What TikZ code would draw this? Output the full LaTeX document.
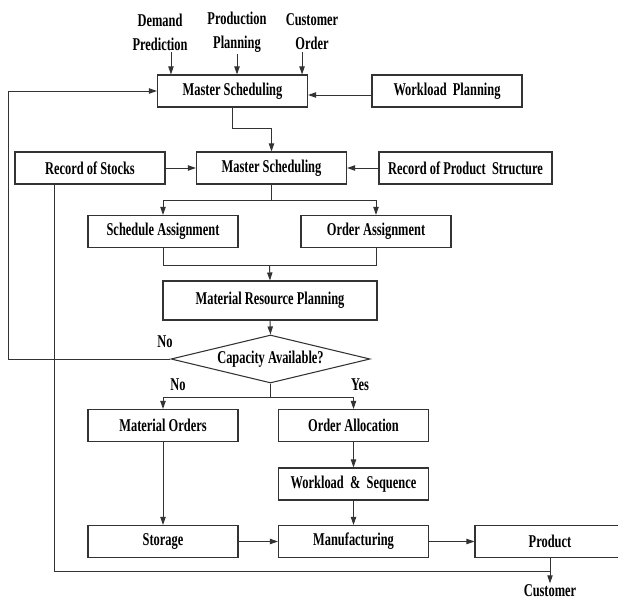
\documentclass[tikz,border=0pt]{standalone}
\usepackage{fontspec}
\setmainfont{Liberation Serif}[FakeStretch=0.69]
\usetikzlibrary{arrows.meta,positioning,shapes.geometric,calc}
\tikzset{
  box/.style    = {rectangle, draw=black!80, line width=0.8pt, minimum height=24pt,
                   minimum width=112.5pt, align=center, inner sep=2pt,
                   font=\bfseries\fontsize{13.5}{18}\selectfont},
  widebox/.style = {box, minimum width=160.5pt, minimum height=29.25pt},
  recbox/.style  = {box, minimum width=129.75pt},
  decis/.style  = {diamond, aspect=4.15, draw=black!80, line width=0.8pt, inner sep=0pt,
                   minimum width=149.25pt, minimum height=36pt,
                   font=\bfseries\fontsize{13.5}{18}\selectfont},
  lbl/.style    = {align=center, inner sep=1pt, font=\bfseries\fontsize{13.5}{18}\selectfont},
  ln/.style     = {draw=black!80, line width=0.7pt},
  ar/.style     = {ln, -{Triangle[length=6pt,width=4pt]}}
}
\begin{document}
\begin{tikzpicture}[x=0.75pt, y=-0.75pt]
    \useasboundingbox (0,0) rectangle (618,602);
    \node[lbl] (dem) at (160,32) {Demand\\Prediction};
    \node[lbl] (prp) at (237,32) {Production\\Planning};
    \node[lbl] (cus) at (312,32) {Customer\\Order};
    \node[box] (ms1) at (232.5,91) {Master Scheduling};
    \node[box] (wp) at (447,91) {Workload~ Planning};
    \node[recbox, minimum width=112.5pt] (ros) at (90,168) {Record of Stocks};
    \node[box] (ms2) at (271.5,168) {Master Scheduling};
    \node[recbox] (rps) at (465.5,168) {Record of Product~ Structure};
    \node[box] (sa) at (163,231.5) {Schedule Assignment};
    \node[box] (oa) at (376,231.5) {Order Assignment};
    \node[widebox] (mrp) at (270,300.5) {Material Resource Planning};
    \node[decis] (cap) at (270.5,359) {Capacity Available?};
    \node[lbl] (no1) at (165,342) {No};
    \node[lbl] (no2) at (178,385) {No};
    \node[lbl] (yes) at (360,385) {Yes};
    \node[box] (mo) at (163,425.5) {Material Orders};
    \node[box] (oal) at (353.5,425.5) {Order Allocation};
    \node[box] (ws) at (353.5,484) {Workload~ \&~ Sequence};
    \node[box] (sto) at (163,541.5) {Storage};
    \node[box] (man) at (353.5,541.5) {Manufacturing};
    \node[box] (prod) at (550,541.5) {Product};
    \node[lbl] (cust) at (550,591) {Customer};
    \coordinate (t1) at ($(ms1.north west)+(14,0)$);
    \coordinate (t2) at ($(ms1.north)+(4.5,0)$);
    \coordinate (t3) at ($(ms1.north east)+(-6,0)$);
    \coordinate (fb) at (8,359);
    \coordinate (rb) at ($(ros.south west)+(40,0)$);
    \coordinate (mj) at ($(sa.south)!0.5!(oa.south)+(0,17)$);
    \draw[ar] (dem.south -| t1) -- (t1);
    \draw[ar] (prp.south -| t2) -- (t2);
    \draw[ar] (cus.south -| t3) -- (t3);
    \draw[ar] ($(wp.west)+(0,4)$) -- ($(ms1.east)+(0,4)$);
    \draw[ar] (cap.west) -- (fb) |- (ms1.west);
    \draw[ar] (ms1.south) -- ++(0,21) -| (ms2.north);
    \draw[ar] (ros.east) -- (ms2.west);
    \draw[ar] (rps.west) -- (ms2.east);
    \draw[ar] (ms2.south) -- ++(0,16) -| (sa.north);
    \draw[ar] (ms2.south) -- ++(0,16) -| (oa.north);
    \draw[ln] (sa.south) |- (mj) -| (oa.south);
    \draw[ar] (mj) -- (mrp.north);
    \draw[ar] (mrp.south) -- (cap.north);
    \draw[ar] (cap.south) -- ++(0,14) -| (mo.north);
    \draw[ar] (cap.south) -- ++(0,14) -| (oal.north);
    \draw[ar] (mo.south) -- (sto.north);
    \draw[ar] (oal.south) -- (ws.north);
    \draw[ar] (ws.south) -- (man.north);
    \draw[ar] (sto.east) -- (man.west);
    \draw[ar] (man.east) -- (prod.west);
    \draw[ln] (rb) |- (prod.south |- 0,571);
    \draw[ar] (prod.south) -- (cust.north);
  \end{tikzpicture}
\end{document}
